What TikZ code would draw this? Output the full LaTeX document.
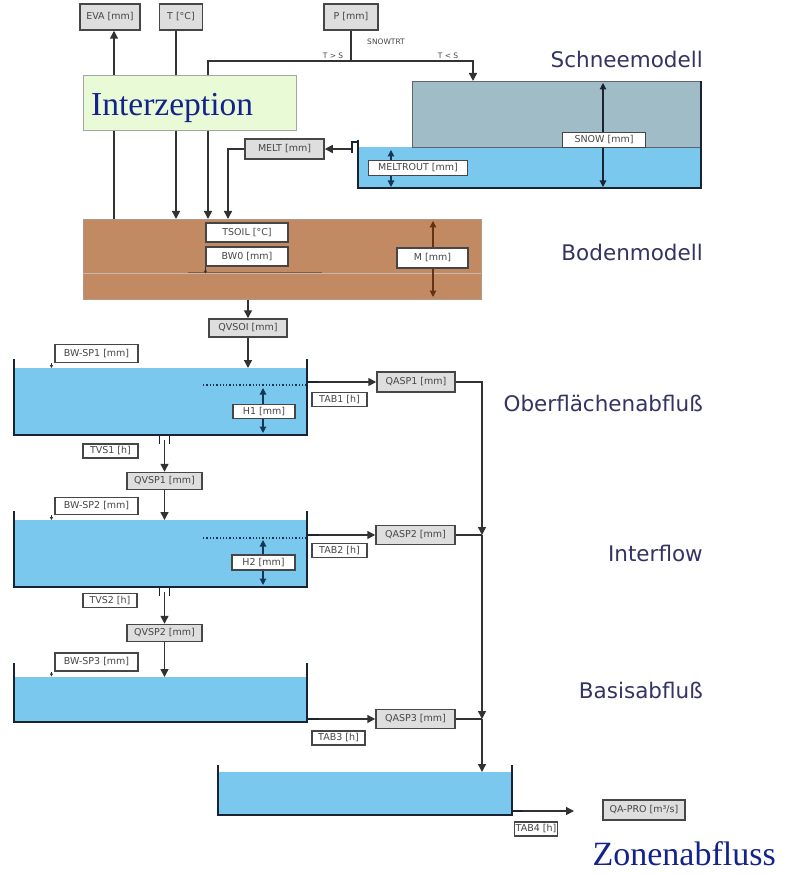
\documentclass[tikz,border=0pt]{standalone}
\usepackage{fontspec}
\setmainfont{Liberation Serif}
\setsansfont{DejaVu Sans}
\usetikzlibrary{arrows.meta,calc}
\definecolor{waterc}{RGB}{122,200,238}
\definecolor{snowc}{RGB}{160,188,198}
\definecolor{soilc}{RGB}{194,138,98}
\definecolor{soild}{RGB}{100,50,20}
\definecolor{greenbox}{RGB}{232,250,214}
\definecolor{boxgray}{RGB}{222,222,222}
\definecolor{lblc}{RGB}{70,70,70}
\definecolor{linec}{RGB}{50,50,50}
\definecolor{wallc}{RGB}{25,35,50}
\definecolor{titlec}{RGB}{52,52,100}
\definecolor{serifblue}{RGB}{20,35,140}
\definecolor{navyarr}{RGB}{20,55,85}
\tikzset{
  lbl/.style={draw=lblc, line width=1.1pt, fill=white, text=lblc,
    font=\sffamily\fontsize{9.5}{10}\selectfont, inner sep=1pt},
  glbl/.style={lbl, fill=boxgray, line width=1.5pt},
  ln/.style={draw=linec, line width=1.5pt},
  arr/.style={ln, -{Triangle[length=8pt,width=8pt]}},
  darr/.style={line width=1.2pt, {Triangle[length=6.5pt,width=6.5pt]}-{Triangle[length=6.5pt,width=6.5pt]}},
  wall/.style={draw=wallc, line width=2.5pt},
  pipe/.style={draw=wallc, line width=1.3pt},
  sectitle/.style={font=\sffamily\fontsize{21.5}{26}\selectfont, text=titlec, anchor=east, inner sep=0pt},
  small/.style={font=\sffamily\fontsize{7.5}{8}\selectfont, text=lblc, inner sep=0pt},
  fillbox/.style={inner sep=0pt, anchor=north west},
  marker/.style={draw=linec, line width=0.7pt, -{Triangle[length=3pt,width=3pt]}},
}
\begin{document}
\begin{tikzpicture}[x=1pt,y=-1pt]
\useasboundingbox (0,0) rectangle (792,874);
\fill[white] (0,0) rectangle (792,874);

% ---------- fills ----------
\node[fillbox, fill=waterc, minimum width=343, minimum height=41] (snoww) at (358,147) {};
\node[fillbox, fill=snowc, draw=wallc!70, line width=0.6pt, minimum width=289, minimum height=66] (snow) at (412,81) {};
\node[fillbox, fill=soilc, draw=soild!50, line width=0.6pt, minimum width=398, minimum height=80] (soil) at (83,219) {};
\node[fillbox, fill=waterc, minimum width=293, minimum height=67] (w1) at (14,368) {};
\node[fillbox, fill=waterc, minimum width=293, minimum height=67] (w2) at (14,520) {};
\node[fillbox, fill=waterc, minimum width=293, minimum height=45] (w3) at (14,677) {};
\node[fillbox, fill=waterc, minimum width=294, minimum height=43] (w4) at (218,772) {};

% ---------- internal marks ----------
\draw[soild!35, line width=0.6pt] (83,273) -- (481,273);
\draw[soild!80, line width=1pt] (188,273) -- (322,273);
\draw[darr, wallc] (603,83) -- (603,187);
\draw[darr, navyarr] (391,150) -- (391,187);
\draw[darr, soild] (433,221) -- (433,297);
\draw[navyarr, line width=1.3pt, dotted] (203,385) -- (307,385);
\draw[darr, navyarr] (263,388) -- (263,433);
\draw[navyarr, line width=1.3pt, dotted] (203,538) -- (307,538);
\draw[darr, navyarr] (263,540) -- (263,585);

% ---------- walls ----------
\draw[wall] (358,140) -- (358,188) -- (701,188) -- (701,81);
\draw[wall] (14,359) -- (14,435) -- (307,435) -- (307,359);
\draw[wall] (14,511) -- (14,587) -- (307,587) -- (307,511);
\draw[wall] (14,663) -- (14,722) -- (307,722) -- (307,663);
\draw[wall] (218,765) -- (218,815) -- (512,815) -- (512,765);
% outlets
\draw[pipe] (358,142) -- (352,142) -- (352,153);
\draw[wallc, line width=2.5pt] (307,382) -- (319,382);
\draw[wallc, line width=2.5pt] (307,535) -- (319,535);
\draw[wallc, line width=2.5pt] (307,719) -- (319,719);
\draw[wallc, line width=2.5pt] (512,811) -- (523,811);
\draw[pipe] (159.5,435) -- (159.5,444) (169.5,435) -- (169.5,444);
\draw[pipe] (159.5,587) -- (159.5,596) (169.5,587) -- (169.5,596);

% ---------- label boxes ----------
\node[glbl, minimum width=60, minimum height=26] (eva) at (110,17) {EVA [mm]};
\node[glbl, minimum width=43, minimum height=26] (tt) at (181,17) {T [°C]};
\node[glbl, minimum width=54, minimum height=26] (pp) at (351,17) {P [mm]};
\node[small] (snowtrt) at (386,42) {SNOWTRT};
\node[small] (tgs) at (333,56) {T > S};
\node[small] (tls) at (448,56) {T < S};

\node[glbl, minimum width=79, minimum height=20] (melt) at (284.5,149) {MELT [mm]};
\node[lbl, minimum width=83, minimum height=15] (snowl) at (604,140) {SNOW [mm]};
\node[lbl, minimum width=99, minimum height=15] (meltrout) at (418,168) {MELTROUT [mm]};

\node[lbl, minimum width=82, minimum height=19] (tsoil) at (247,232.5) {TSOIL [°C]};
\node[lbl, minimum width=82, minimum height=19] (bw0) at (247,256.5) {BW0 [mm]};
\node[lbl, minimum width=71, minimum height=20] (mm) at (432.5,258) {M [mm]};
\node[glbl, minimum width=78, minimum height=18] (qvsoi) at (248,328) {QVSOI [mm]};

\node[lbl, minimum width=83, minimum height=18] (bwsp1) at (96.5,353.5) {BW-SP1 [mm]};
\node[lbl, minimum width=62, minimum height=14] (h1) at (264,411.5) {H1 [mm]};
\node[lbl, minimum width=55, minimum height=14] (tab1) at (339.5,399.5) {TAB1 [h]};
\node[glbl, minimum width=78, minimum height=20] (qasp1) at (416,382) {QASP1 [mm]};
\node[lbl, minimum width=55, minimum height=14] (tvs1) at (110.5,451) {TVS1 [h]};
\node[glbl, minimum width=75, minimum height=17] (qvsp1) at (164.5,481) {QVSP1 [mm]};

\node[lbl, minimum width=83, minimum height=17] (bwsp2) at (96.5,506) {BW-SP2 [mm]};
\node[lbl, minimum width=63, minimum height=15] (h2) at (263.5,562.5) {H2 [mm]};
\node[lbl, minimum width=55, minimum height=14] (tab2) at (339.5,550.5) {TAB2 [h]};
\node[glbl, minimum width=79, minimum height=19] (qasp2) at (415.5,535) {QASP2 [mm]};
\node[lbl, minimum width=54, minimum height=14] (tvs2) at (110,600.5) {TVS2 [h]};
\node[glbl, minimum width=75, minimum height=17] (qvsp2) at (164.5,633) {QVSP2 [mm]};

\node[lbl, minimum width=83, minimum height=18] (bwsp3) at (96.5,662) {BW-SP3 [mm]};
\node[glbl, minimum width=79, minimum height=19] (qasp3) at (415.5,719) {QASP3 [mm]};
\node[lbl, minimum width=53, minimum height=14] (tab3) at (338.5,738) {TAB3 [h]};

\node[glbl, minimum width=82, minimum height=20] (qapro) at (644,810) {QA-PRO [m³/s]};
\node[lbl, minimum width=38, minimum height=14] (tab4) at (536,829) {TAB4 [h]};

% ---------- titles ----------
\node[sectitle] (t1) at (703,59) {Schneemodell};
\node[sectitle] (t2) at (703,252) {Bodenmodell};
\node[sectitle] (t3) at (703,403) {Oberflächenabfluß};
\node[sectitle] (t4) at (703,553) {Interflow};
\node[sectitle] (t5) at (703,690) {Basisabfluß};

% ---------- Interzeption ----------
\node[fillbox, fill=greenbox, draw=gray!70, line width=1pt, minimum width=213, minimum height=55] (interz) at (83,75) {};
\node[anchor=base west, inner sep=0pt, font=\fontsize{33.5}{36}\selectfont, text=serifblue] (interzt) at (91,116) {Interzeption};
\node[anchor=base east, inner sep=0pt, font=\fontsize{34}{38}\selectfont, text=serifblue] (zonen) at (776,865) {Zonenabfluss};

% ---------- coordinates ----------
\coordinate (evx) at (114,0);
\coordinate (tx) at (176,0);
\coordinate (px) at (208,0);
\coordinate (mx) at (228,0);
\coordinate (sr) at (473,0);
\coordinate (spl) at (351,61);
\coordinate (so) at (351,149);
\coordinate (jx) at (482,0);
\coordinate (o1) at (319,382);
\coordinate (o2) at (319,535);
\coordinate (o3) at (319,719);
\coordinate (o4) at (523,811);
\coordinate (qend) at (574,811);
\coordinate (b1) at (164.5,440);
\coordinate (b2) at (164.5,592);

% ---------- connectors ----------
\draw[arr] (evx |- interz.north) -- (evx |- eva.south);
\draw[ln] (evx |- interz.south) -- (evx |- soil.north);
\draw[ln] (tx |- tt.south) -- (tx |- interz.north);
\draw[arr] (tx |- interz.south) -- (tx |- soil.north);
\draw[ln] (pp.south) -- (spl);
\draw[ln] (px |- interz.north) |- (spl);
\draw[arr] (spl) -| (sr |- snow.north);
\draw[arr] (px |- interz.south) -- (px |- soil.north);
\draw[arr] (so) -- (melt.east);
\draw[arr] (melt.west) -| (mx |- soil.north);
\draw[marker] (bw0.south west) -- ++(0,7);

\draw[arr] (qvsoi.north |- soil.south) -- (qvsoi.north);
\draw[arr] (qvsoi.south) -- (qvsoi.south |- w1.north);
\draw[marker] ([xshift=-3pt]bwsp1.south west) -- ++(0,5);
\draw[arr] (o1) -- (qasp1.west);
\draw[arr] (b1) -- (qvsp1.north);
\draw[arr] (qvsp1.south) -- (qvsp1.south |- w2.north);
\draw[marker] ([xshift=-3pt]bwsp2.south west) -- ++(0,5);
\draw[arr] (o2) -- (qasp2.west);
\draw[arr] (b2) -- (qvsp2.north);
\draw[arr] (qvsp2.south) -- (qvsp2.south |- w3.north);
\draw[marker] ([xshift=-3pt]bwsp3.south west) -- ++(0,5);
\draw[arr] (o3) -- (qasp3.west);

\draw[arr] (qasp1.east) -| (jx |- qasp2.east);
\draw[ln] (qasp2.east) -- (jx |- qasp2.east);
\draw[arr] (jx |- qasp2.east) -- (jx |- qasp3.east);
\draw[ln] (qasp3.east) -- (jx |- qasp3.east);
\draw[arr] (jx |- qasp3.east) -- (jx |- w4.north);
\draw[arr] (o4) -- (qend);
\end{tikzpicture}
\end{document}
